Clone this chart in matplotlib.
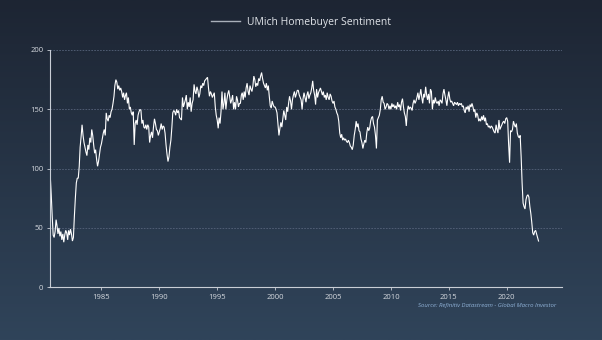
import numpy as np
import pandas as pd
import matplotlib
matplotlib.use("Agg")
import matplotlib.pyplot as plt
import matplotlib.dates as mdates

# ---- data (monthly, Aug 1980 - Oct 2022) ----
start_month = "1980-08-01"
sentiment = [
    94, 78, 60, 44, 42,                                   # 1980 (Aug-Dec)
    47, 57, 52, 45, 50, 43, 47, 40, 45, 38, 44, 48,       # 1981
    46, 40, 48, 44, 49, 45, 39, 42, 60, 75, 88, 92,       # 1982
    92, 102, 118, 127, 137, 128, 122, 118, 114, 111, 120, 116,  # 1983
    126, 122, 133, 128, 120, 113, 116, 108, 102, 106, 112, 118, # 1984
    121, 126, 130, 133, 128, 147, 142, 140, 145, 143, 148, 150, # 1985
    155, 161, 170, 175, 173, 167, 170, 166, 168, 165, 160, 164, # 1986
    158, 162, 164, 155, 160, 150, 152, 147, 145, 148, 120, 138, # 1987
    141, 137, 145, 148, 150, 149, 138, 141, 135, 134, 137, 133, # 1988
    137, 135, 122, 128, 131, 126, 135, 142, 138, 133, 132, 128, # 1989
    131, 134, 138, 133, 136, 135, 130, 120, 112, 106, 110, 118, # 1990
    124, 135, 147, 149, 148, 145, 150, 147, 149, 143, 142, 141, # 1991
    160, 152, 155, 158, 162, 150, 156, 152, 160, 148, 155, 158, # 1992
    171, 165, 163, 169, 166, 160, 163, 170, 168, 172, 170, 174, # 1993
    175, 176, 177, 168, 161, 165, 163, 160, 162, 164, 152, 145, # 1994
    141, 134, 143, 138, 148, 165, 150, 155, 164, 150, 158, 163, # 1995
    166, 160, 155, 158, 162, 150, 156, 150, 161, 158, 152, 155, # 1996
    155, 162, 164, 158, 165, 160, 168, 172, 165, 162, 170, 167, # 1997
    165, 170, 178, 175, 169, 172, 170, 176, 174, 178, 181, 176, # 1998
    172, 170, 168, 172, 166, 170, 161, 153, 151, 157, 154, 152, # 1999
    152, 150, 147, 137, 128, 134, 139, 135, 142, 149, 145, 141, # 2000
    152, 148, 155, 161, 157, 150, 158, 162, 165, 160, 163, 166, # 2001
    166, 162, 160, 158, 150, 159, 164, 160, 156, 162, 165, 159, # 2002
    162, 164, 168, 174, 166, 162, 154, 167, 160, 164, 166, 168, # 2003
    165, 162, 165, 160, 162, 158, 164, 160, 158, 163, 161, 157, # 2004
    155, 157, 152, 150, 147, 145, 140, 130, 126, 129, 124, 126, # 2005
    124, 125, 123, 122, 124, 122, 119, 118, 116, 120, 128, 133, # 2006
    140, 135, 138, 132, 131, 125, 122, 117, 121, 124, 122, 130, # 2007
    135, 132, 134, 140, 143, 144, 138, 135, 128, 117, 141, 143, # 2008
    145, 150, 158, 161, 156, 155, 150, 152, 155, 154, 150, 153, # 2009
    150, 155, 152, 154, 151, 153, 150, 156, 152, 154, 149, 156, # 2010
    159, 152, 147, 144, 136, 148, 153, 150, 152, 151, 149, 155, # 2011
    158, 155, 157, 160, 164, 158, 162, 167, 160, 155, 163, 160, # 2012
    169, 162, 158, 163, 155, 167, 165, 150, 158, 155, 160, 156, # 2013
    155, 157, 153, 158, 157, 155, 163, 167, 162, 158, 153, 160, # 2014
    165, 159, 156, 157, 155, 153, 156, 155, 154, 156, 153, 155, # 2015
    154, 155, 152, 153, 149, 147, 152, 150, 153, 148, 154, 152, # 2016
    155, 152, 148, 150, 143, 147, 145, 140, 142, 140, 144, 141, # 2017
    145, 140, 143, 137, 138, 135, 136, 134, 136, 135, 133, 131, # 2018
    130, 137, 133, 130, 141, 133, 135, 137, 139, 140, 138, 142, # 2019
    143, 140, 121, 105, 132, 131, 133, 140, 137, 135, 138, 130, # 2020
    127, 126, 128, 110, 88, 71, 68, 66, 74, 77, 78, 76,         # 2021
    68, 62, 55, 46, 44, 47, 48, 45, 42, 39,                     # 2022 (Jan-Oct)
]
series_name = "UMich Homebuyer Sentiment"
y_ticks = [0, 50, 100, 150, 200]
x_tick_years = [1985, 1990, 1995, 2000, 2005, 2010, 2015, 2020]
source_text = "Source: Refinitiv Datastream - Global Macro Investor"

dates = pd.date_range(start_month, periods=len(sentiment), freq="MS")

plt.rcParams['font.family'] = ['Open Sans', 'DejaVu Sans']

W, H = 602, 340
fig = plt.figure(figsize=(W / 100, H / 100), dpi=100)

# background gradient
bg = fig.add_axes([0, 0, 1, 1], zorder=-10)
grad = np.linspace(0, 1, 256).reshape(-1, 1)
top = np.array([0x1d, 0x25, 0x33]) / 255
bot = np.array([0x30, 0x44, 0x5a]) / 255
img = top[None, None, :] * (1 - grad[:, :, None]) + bot[None, None, :] * grad[:, :, None]
bg.imshow(img, aspect="auto", extent=[0, 1, 0, 1], origin="upper")
bg.axis("off")

ax = fig.add_axes([49.5 / W, 1 - 287.3 / H, (561.7 - 49.5) / W, (287.3 - 50.0) / H])
ax.patch.set_alpha(0)

ax.plot(dates, sentiment, color="white", lw=0.8, label=series_name, solid_joinstyle="miter")

ax.set_ylim(0, 200)
ax.set_xlim(pd.Timestamp("1980-07-08"), pd.Timestamp("2024-10-01"))
ax.set_yticks(y_ticks)
ax.set_xticks([pd.Timestamp(f"{y}-01-01") for y in x_tick_years])
ax.xaxis.set_major_formatter(mdates.DateFormatter("%Y"))

for s in ["top", "right"]:
    ax.spines[s].set_visible(False)
for s in ["left", "bottom"]:
    ax.spines[s].set_color("#c9ced6")
    ax.spines[s].set_linewidth(0.8)

ax.tick_params(axis="both", colors="#c9ced6", labelsize=5.5, length=2.5, width=0.6, pad=2,
               labelcolor="#d5d9df")

for v in y_ticks[1:]:
    ax.axhline(v, color="#56637a", lw=0.6, ls=(0, (2, 1.5)), zorder=0)

leg = fig.legend(loc="center", bbox_to_anchor=(0.5, 1 - 22 / H), frameon=False,
                 fontsize=7.5, labelcolor="#dfe3e8", handlelength=2.8, handletextpad=0.6)
for h in leg.get_lines():
    h.set_color("#a9b0ba")
    h.set_linewidth(1.0)

fig.text(556 / W, 1 - 305 / H, source_text, ha="right", va="center", fontsize=4.3,
         style="italic", color="#8fb2d6")

fig.savefig("out.png", dpi=100)
